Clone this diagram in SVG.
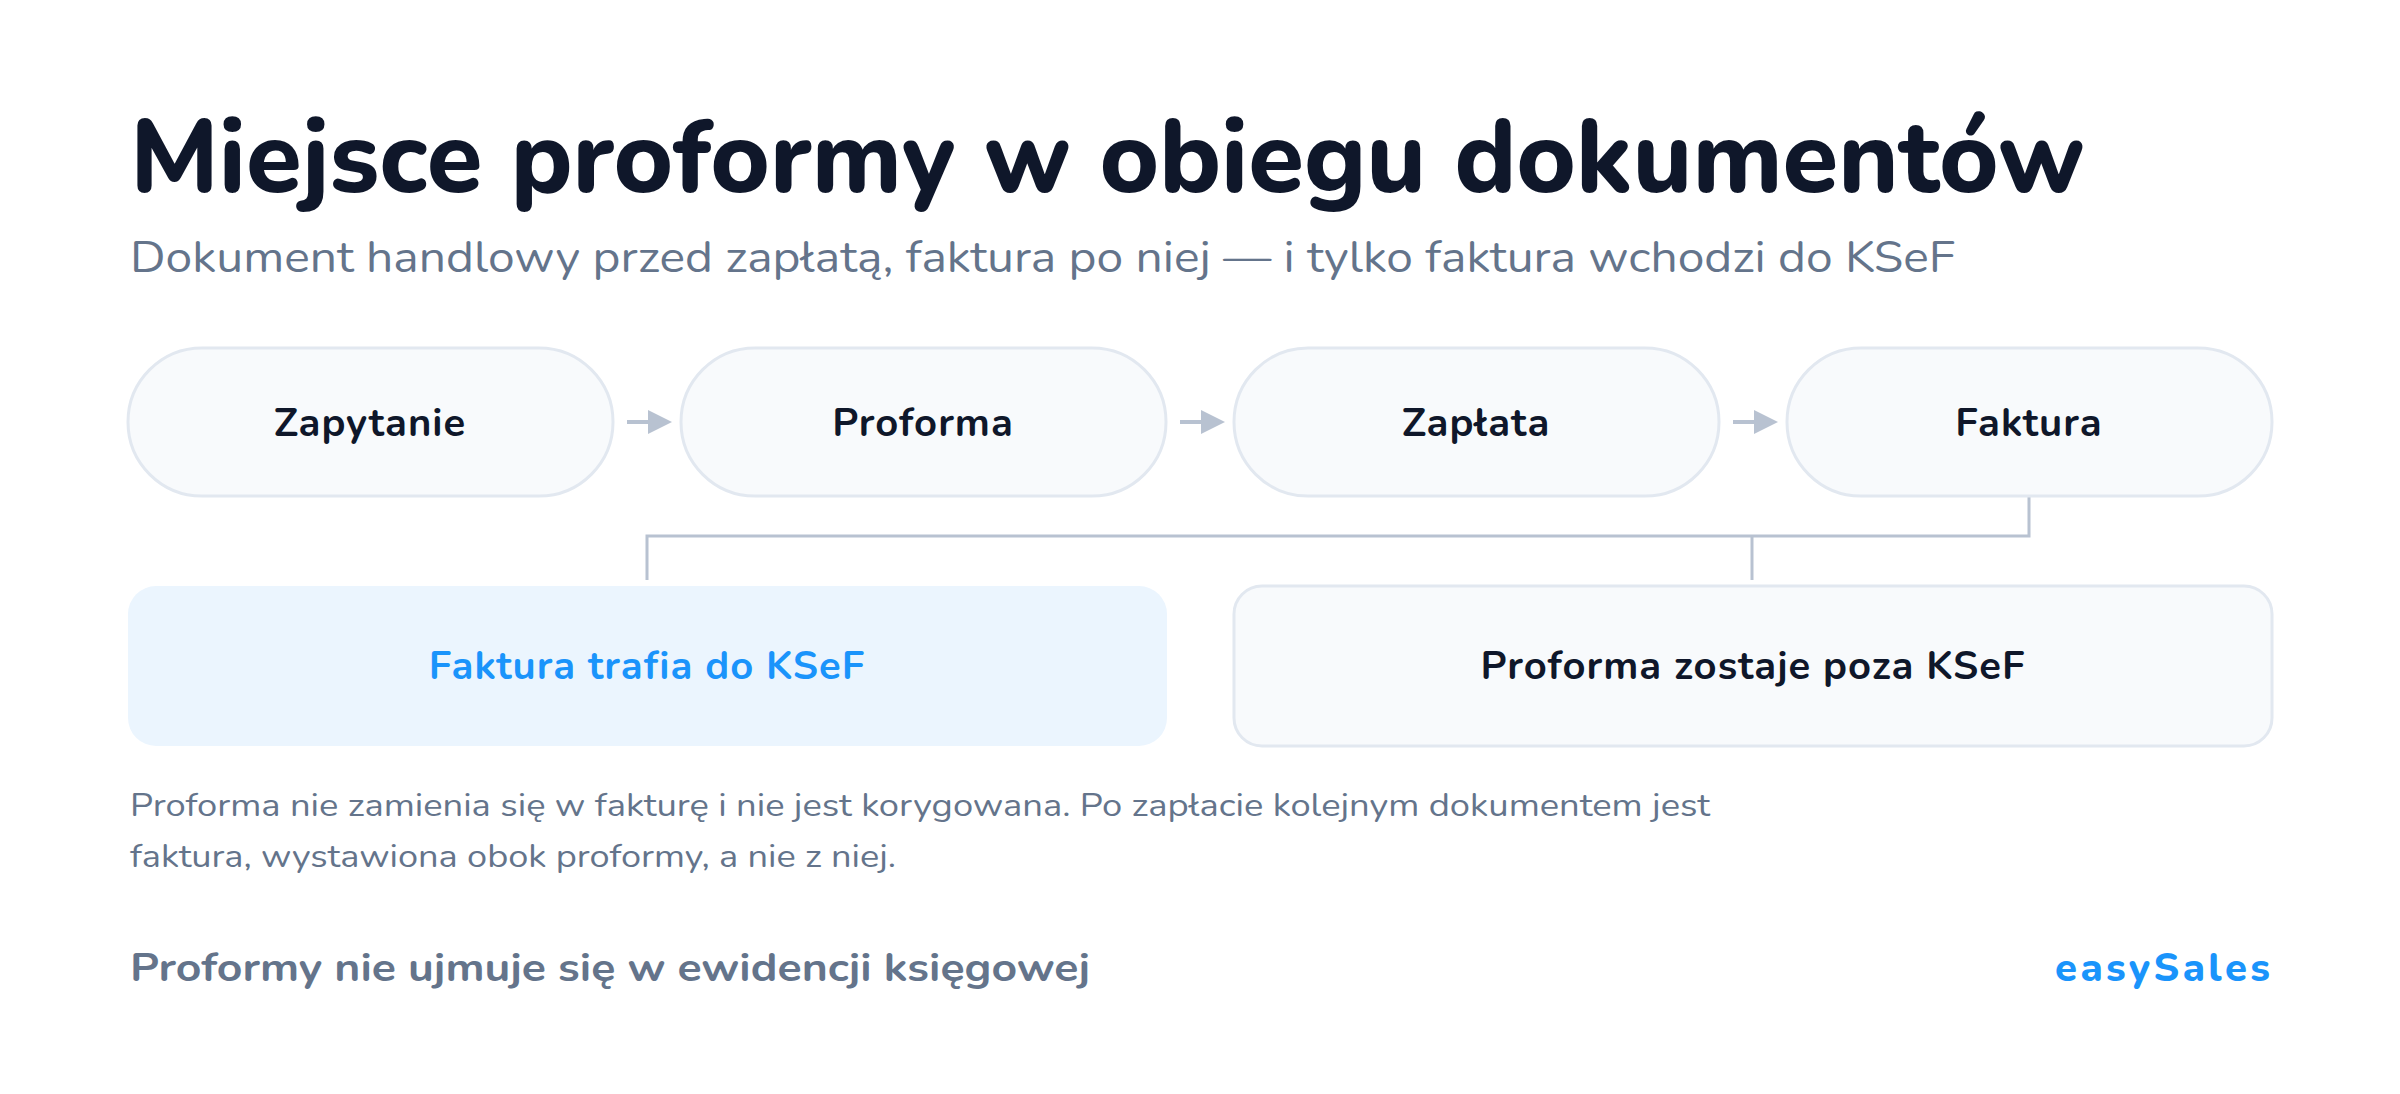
<svg xmlns="http://www.w3.org/2000/svg" width="2400" height="1094" viewBox="0 0 2400 1094">
<style>
text{font-family:"Nunito","Noto Sans","Liberation Sans",sans-serif}
.title{font-size:104px;font-weight:800;fill:#0f172a}
.sub{font-size:44px;font-weight:400;fill:#64748b}
.pill{fill:#f8fafc;stroke:#e2e8f0;stroke-width:3}
.pt{font-size:40px;font-weight:700;fill:#0f172a;text-anchor:middle;letter-spacing:1px}
.conn{stroke:#b8c2d1;stroke-width:3;fill:none}
.arr{stroke:#b8c2d1;stroke-width:4;fill:none}
.note{font-size:32px;fill:#64748b}
.foot{font-size:40px;font-weight:700;fill:#64748b}
.brand{font-size:40px;font-weight:800;fill:#1a94fb}
</style>
<defs>
<marker id="ah" markerWidth="6" markerHeight="6" refX="0" refY="3" orient="auto" markerUnits="strokeWidth">
<path d="M0,0 L6,3 L0,6 z" fill="#b8c2d1"/>
</marker>
</defs>
<rect width="2400" height="1094" fill="#ffffff"/>
<text class="title" x="130" y="192" textLength="1955" lengthAdjust="spacingAndGlyphs">Miejsce proformy w obiegu dokumentów</text>
<text class="sub" x="130" y="272" textLength="1825" lengthAdjust="spacingAndGlyphs">Dokument handlowy przed zapłatą, faktura po niej — i tylko faktura wchodzi do KSeF</text>
<g id="connectors">
<path class="arr" d="M627,422 H648" marker-end="url(#ah)"/>
<path class="arr" d="M1180,422 H1201" marker-end="url(#ah)"/>
<path class="arr" d="M1733,422 H1754" marker-end="url(#ah)"/>
<path class="conn" d="M2029,496 V536 H647 V580"/>
<path class="conn" d="M1752,536 V580"/>
</g>
<g id="n-zapytanie"><rect class="pill" x="128" y="348" width="485" height="148" rx="74"/><text class="pt" x="370" y="436">Zapytanie</text></g>
<g id="n-proforma"><rect class="pill" x="681" y="348" width="485" height="148" rx="74"/><text class="pt" x="923" y="436">Proforma</text></g>
<g id="n-zaplata"><rect class="pill" x="1234" y="348" width="485" height="148" rx="74"/><text class="pt" x="1476" y="436">Zapłata</text></g>
<g id="n-faktura"><rect class="pill" x="1787" y="348" width="485" height="148" rx="74"/><text class="pt" x="2029" y="436">Faktura</text></g>
<g id="n-ksef"><rect x="128" y="586" width="1039" height="160" rx="28" fill="#ebf5fe"/><text class="pt" x="647" y="679" style="fill:#1a94fb">Faktura trafia do KSeF</text></g>
<g id="n-poza"><rect class="pill" x="1234" y="586" width="1038" height="160" rx="28"/><text class="pt" x="1753" y="679">Proforma zostaje poza KSeF</text></g>
<text class="note" x="130" y="816" textLength="1580" lengthAdjust="spacingAndGlyphs">Proforma nie zamienia się w fakturę i nie jest korygowana. Po zapłacie kolejnym dokumentem jest</text>
<text class="note" x="130" y="867" textLength="766" lengthAdjust="spacingAndGlyphs">faktura, wystawiona obok proformy, a nie z niej.</text>
<text class="foot" x="130" y="981" textLength="960" lengthAdjust="spacingAndGlyphs">Proformy nie ujmuje się w ewidencji księgowej</text>
<text class="brand" x="2055" y="981" textLength="215" lengthAdjust="spacing">easySales</text>
</svg>
